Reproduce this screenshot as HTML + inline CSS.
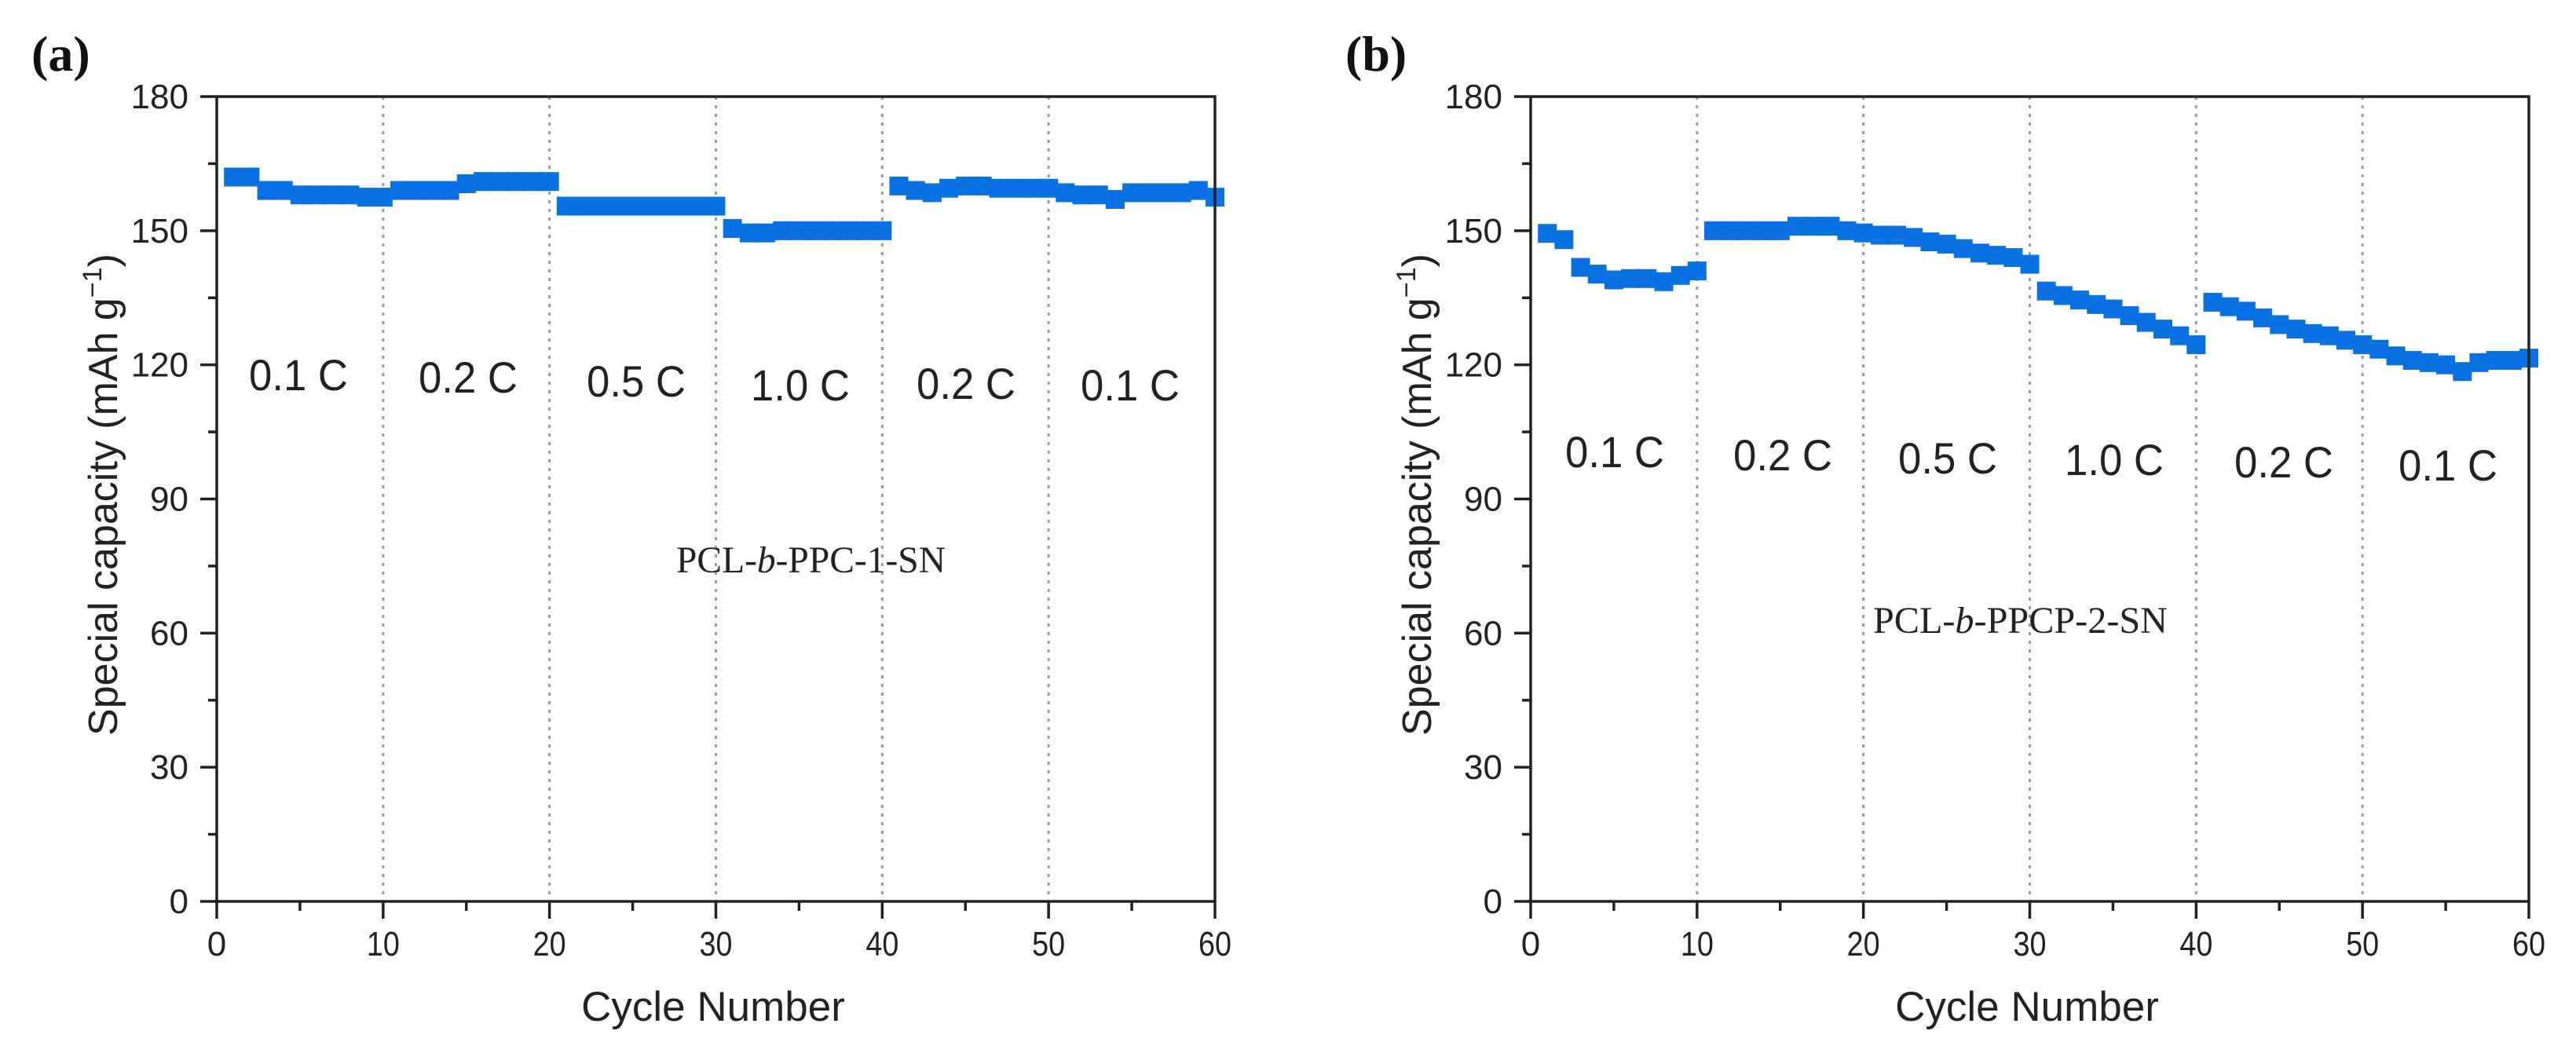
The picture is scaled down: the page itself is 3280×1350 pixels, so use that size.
<!DOCTYPE html>
<html><head><meta charset="utf-8">
<style>
html,body{margin:0;padding:0;background:#fff;}
svg{display:block;}
</style></head>
<body>
<svg id="fig" width="3280" height="1350" viewBox="0 0 3280 1350" xmlns="http://www.w3.org/2000/svg">
<rect width="3280" height="1350" fill="#fff"/>
</svg>
<script>
const xTicks = [0, 10, 20, 30, 40, 50, 60];
const yTicks = [0, 30, 60, 90, 120, 150, 180];
const rateLabels = ["0.1 C", "0.2 C", "0.5 C", "1.0 C", "0.2 C", "0.1 C"];
const rateBoundaries = [10, 20, 30, 40, 50];
const cyclesA = [1,2,3,4,5,6,7,8,9,10,11,12,13,14,15,16,17,18,19,20,21,22,23,24,25,26,27,28,29,30,31,32,33,34,35,36,37,38,39,40,41,42,43,44,45,46,47,48,49,50,51,52,53,54,55,56,57,58,59,60];
const capacityA = [162,162,159,159,158,158,158,158,157.5,157.5,159,159,159,159,160.5,161,161,161,161,161,
  155.5,155.5,155.5,155.5,155.5,155.5,155.5,155.5,155.5,155.5,150.5,149.5,149.5,150,150,150,150,150,150,150,
  160,159,158.5,159.5,160,160,159.5,159.5,159.5,159.5,158.5,158,158,157,158.5,158.5,158.5,158.5,159,157.5];
const cyclesB = cyclesA.slice();
const capacityB = [149.4,148,141.8,140.3,139,139.3,139.3,138.6,140,141,
  150,150,150,150,150,151,151,151,150,149.5,
  149,149,148.5,147.5,147,146,145,144.5,144,142.5,
  136.5,135.5,134.5,133.5,132.5,131,129.5,128,126.5,124.5,
  134,133,132,130.5,129,128,127,126.5,125.5,124.5,
  123.5,122,121,120.5,120,118.5,120.5,121,121,121.5];
const labelA = "(a)", labelB = "(b)";

const NS = "http://www.w3.org/2000/svg";
const svg = document.getElementById("fig");
function mk(tag, attrs, parent){
  const e = document.createElementNS(NS, tag);
  for (const k in attrs) e.setAttribute(k, attrs[k]);
  (parent || svg).appendChild(e);
  return e;
}

function drawPanel(id, ox, cycles, values, panelLabel, sampleParts, sampleX, sampleY, sampleW, rateX, rateY){
  const g = mk("g", {});
  
  
  const L = 276 + ox, R = 1547 + ox, T = 123, B = 1148;
  const xs = v => L + (v - 0) / 60 * (R - L);
  const ys = v => B - (v - 0) / 180 * (B - T);

  // dotted dividers
  rateBoundaries.forEach(b => {
    const l = mk("line", {x1: xs(b), x2: xs(b), y1: T, y2: B, stroke: "#9a9a9a", "stroke-width": 3, "stroke-dasharray": "4 7"}, g);
    
    
  });

  // data markers
  const sg = mk("g", {fill: "#0a71e2"}, g);
  
  
  const ms = 24;
  cycles.forEach((c, i) => {
    const r = mk("rect", {x: xs(c) - ms/2, y: ys(values[i]) - ms/2, width: ms, height: ms}, sg);
    
    
  });

  // frame
  const fr = mk("rect", {x: L, y: T, width: R - L, height: B - T, fill: "none", stroke: "#222", "stroke-width": 3.5}, g);
  
  

  // x ticks
  xTicks.forEach(t => {
    mk("line", {x1: xs(t), x2: xs(t), y1: B, y2: B + 22, stroke: "#222", "stroke-width": 3.5}, g);
    const tx = mk("text", {x: xs(t), y: 1217, "text-anchor": "middle", "font-family": "Liberation Sans, sans-serif", "font-size": 44, fill: "#222", textLength: 42, lengthAdjust: "spacingAndGlyphs"}, g);
    if (String(t).length === 1) tx.removeAttribute("textLength");
    tx.textContent = t;
    
    
  });
  for (let t = 5; t < 60; t += 10) mk("line", {x1: xs(t), x2: xs(t), y1: B, y2: B + 12, stroke: "#222", "stroke-width": 3.5}, g);

  // y ticks
  yTicks.forEach(t => {
    mk("line", {x1: L - 21, x2: L, y1: ys(t), y2: ys(t), stroke: "#222", "stroke-width": 3.5}, g);
    const tx = mk("text", {x: L - 36, y: ys(t) + 15, "text-anchor": "end", "font-family": "Liberation Sans, sans-serif", "font-size": 44, fill: "#222"}, g);
    tx.textContent = t;
    
    
  });
  for (let t = 15; t < 180; t += 30) mk("line", {x1: L - 11, x2: L, y1: ys(t), y2: ys(t), stroke: "#222", "stroke-width": 3.5}, g);

  // axis titles
  const xt = mk("text", {x: 908 + ox, y: 1300, "text-anchor": "middle", "font-family": "Liberation Sans, sans-serif", "font-size": 53, fill: "#222"}, g);
  xt.textContent = "Cycle Number";
  
  

  const yt = mk("text", {x: 0, y: 0, "text-anchor": "middle", "font-family": "Liberation Sans, sans-serif", "font-size": 52, fill: "#222", transform: `translate(${149 + ox},630) rotate(-90)`}, g);
  yt.innerHTML = 'Special capacity (mAh g<tspan dy="-20" font-size="34">−1</tspan><tspan dy="20">)</tspan>';
  
  

  // rate labels
  rateLabels.forEach((s, i) => {
    const tx = mk("text", {x: rateX[i], y: rateY[i], "text-anchor": "middle", "font-family": "Liberation Sans, sans-serif", "font-size": 56, fill: "#222", textLength: 126, lengthAdjust: "spacingAndGlyphs"}, g);
    tx.textContent = s;
    
    
  });

  // sample annotation
  const an = mk("text", {x: sampleX, y: sampleY, "font-family": "Liberation Serif, serif", "font-size": 48, fill: "#222", textLength: sampleW, lengthAdjust: "spacingAndGlyphs"}, g);
  an.innerHTML = sampleParts[0] + '<tspan font-style="italic">b</tspan>' + sampleParts[1];
  
  

  // panel label
  const pl = mk("text", {x: 40 + ox, y: 90, "font-family": "Liberation Serif, serif", "font-size": 64, "font-weight": "bold", fill: "#111"}, g);
  pl.textContent = panelLabel;
  
  
}

drawPanel("a", 0, cyclesA, capacityA, labelA, ["PCL-", "-PPC-1-SN"], 861, 729, 343,
  [380, 596, 810, 1019, 1230, 1439], [497, 500, 505, 510, 508, 510]);
drawPanel("b", 1673, cyclesB, capacityB, labelB, ["PCL-", "-PPCP-2-SN"], 2385, 806, 375,
  [2056, 2270, 2480, 2692, 2908, 3117], [595, 599, 603, 605, 608, 612]);
</script>
</body></html>
